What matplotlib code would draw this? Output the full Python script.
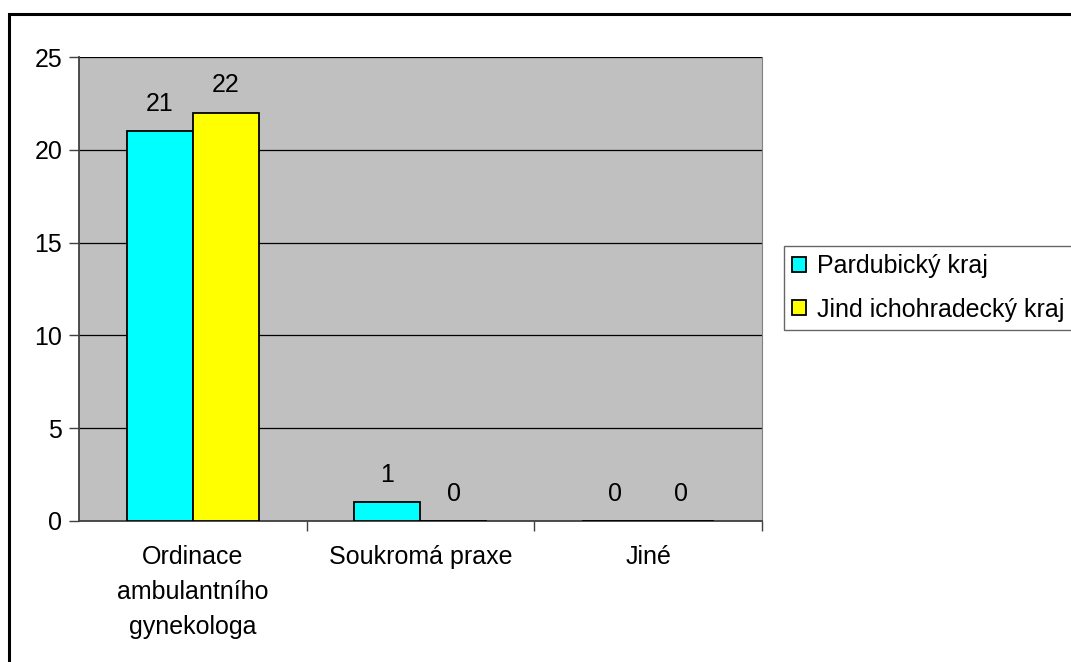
import matplotlib
matplotlib.use("Agg")
import matplotlib.pyplot as plt
from matplotlib.patches import Rectangle
import numpy as np

categories = ["Ordinace\nambulantního\ngynekologa", "Soukromá praxe", "Jiné"]
series_names = ["Pardubický kraj", "Jind ichohradecký kraj"]
pardubicky = [21, 1, 0]
jindrichohradecky = [22, 0, 0]
y_ticks = [0, 5, 10, 15, 20, 25]
colors = ["#00FFFF", "#FFFF00"]

plt.rcParams["font.family"] = ["Liberation Sans", "DejaVu Sans"]
FS = 18

W, H = 1071, 662
fig = plt.figure(figsize=(W / 100, H / 100), dpi=100)
fig.patch.set_facecolor("white")

# outer chart frame (continues past the right and bottom edges)
frame_top = 1 - 13.5 / H
fig.add_artist(Rectangle((8.5 / W, -0.05), 1.2, frame_top + 0.05,
                         transform=fig.transFigure, fill=False,
                         edgecolor="black", linewidth=2.2, clip_on=False))

left, right, top, bottom = 79, 762, 57, 521
ax = fig.add_axes([left / W, 1 - bottom / H, (right - left) / W, (bottom - top) / H])
ax.set_facecolor("#C0C0C0")

x = np.arange(len(categories))
width = 0.29
b1 = ax.bar(x - width / 2, pardubicky, width, color=colors[0], edgecolor="black",
            linewidth=1.3, label=series_names[0], zorder=3)
b2 = ax.bar(x + width / 2, jindrichohradecky, width, color=colors[1], edgecolor="black",
            linewidth=1.3, label=series_names[1], zorder=3)

for bars, vals in ((b1, pardubicky), (b2, jindrichohradecky)):
    for rect, v in zip(bars, vals):
        ax.annotate(f"{v}", (rect.get_x() + rect.get_width() / 2, v),
                    xytext=(0, 11), textcoords="offset points",
                    ha="center", va="bottom", fontsize=FS)

ax.set_xlim(-0.5, 2.5)
ax.set_ylim(0, 25)
ax.set_yticks(y_ticks)
ax.yaxis.grid(True, color="black", linewidth=0.9, zorder=1)
ax.set_axisbelow(True)
ax.tick_params(axis="y", labelsize=FS, length=7, width=1, color="#404040", pad=5, direction="out")

# category boundary ticks on the x axis, labels at category centres
ax.set_xticks([0.5, 1.5, 2.5])
ax.set_xticklabels([])
ax.set_xticks(x, minor=True)
ax.set_xticklabels(categories, minor=True, fontsize=FS, linespacing=1.58)
ax.tick_params(axis="x", which="major", length=7, width=1, color="#404040", direction="out")
ax.tick_params(axis="x", which="minor", length=0, pad=17)

for side in ("left", "bottom"):
    ax.spines[side].set_color("#404040")
    ax.spines[side].set_linewidth(1.3)
ax.spines["right"].set_color("#808080")
ax.spines["top"].set_visible(False)

leg = fig.legend(handles=[b1, b2], labels=series_names,
                 loc="upper left", bbox_to_anchor=(784 / W, 1 - 246 / H),
                 fontsize=FS, frameon=True, fancybox=False, edgecolor="#404040",
                 handlelength=0.55, handleheight=0.55, handletextpad=0.45,
                 labelspacing=0.78, borderpad=0.32, borderaxespad=0)
leg.get_frame().set_linewidth(1.0)

fig.savefig("out.png", dpi=100)
